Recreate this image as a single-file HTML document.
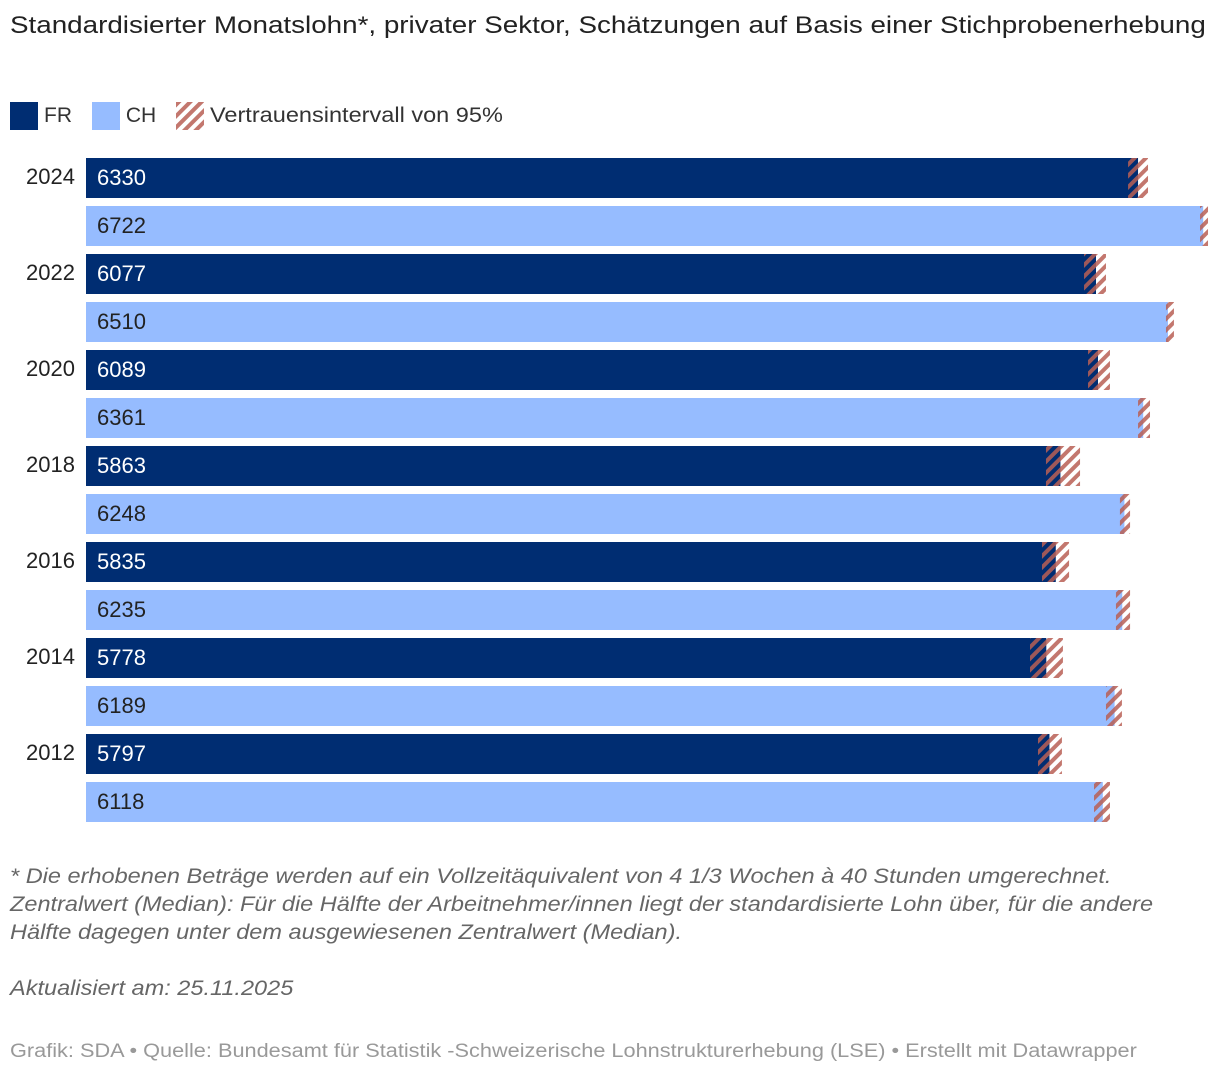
<!DOCTYPE html>
<html><head><meta charset="utf-8"><style>
body{margin:0;background:#fff;font-family:"Liberation Sans",sans-serif;}
#wrap{position:relative;width:1220px;height:1076px;overflow:hidden;}
.t{position:absolute;white-space:nowrap;transform-origin:0 0;}
</style></head><body>
<div id="wrap">
<div class="t" style="left:10px;top:12px;font-size:24px;color:#222;transform:scaleX(1.158);">Standardisierter Monatslohn*, privater Sektor, Schätzungen auf Basis einer Stichprobenerhebung</div>
<div class="t" style="left:10px;top:102px;font-size:21px;color:#333;height:28px;">
<span style="display:inline-block;vertical-align:middle;"><span style="display:inline-block;width:28px;height:28px;background:#002d72;vertical-align:middle;"></span><span style="vertical-align:middle;margin-left:6px;">FR</span></span>
<span style="display:inline-block;vertical-align:middle;margin-left:14px;"><span style="display:inline-block;width:28px;height:28px;background:#96bcff;vertical-align:middle;"></span><span style="vertical-align:middle;margin-left:6px;">CH</span></span>
<span style="display:inline-block;vertical-align:middle;margin-left:14px;"><svg width="28" height="28" style="vertical-align:middle"><rect width="28" height="28" fill="url(#hatch)"/></svg><span style="vertical-align:middle;margin-left:6px;display:inline-block;transform:scaleX(1.12);transform-origin:0 50%;">Vertrauensintervall von 95%</span></span>
</div>
<svg id="chart" width="1220" height="840" style="position:absolute;left:0;top:0">
<defs><pattern id="hatch" width="8" height="8" patternUnits="userSpaceOnUse" patternTransform="rotate(45)"><rect width="4" height="8" fill="rgba(185,95,85,0.85)"/></pattern></defs>
</svg>
<div class="t" style="left:10px;top:863px;font-size:21px;color:#666;font-style:italic;line-height:28px;transform:scaleX(1.12);">* Die erhobenen Beträge werden auf ein Vollzeitäquivalent von 4 1/3 Wochen à 40 Stunden umgerechnet.<br>Zentralwert (Median): Für die Hälfte der Arbeitnehmer/innen liegt der standardisierte Lohn über, für die andere<br>Hälfte dagegen unter dem ausgewiesenen Zentralwert (Median).<br><br>Aktualisiert am: 25.11.2025</div>
<div class="t" style="left:10px;top:1041px;font-size:19px;color:#999;transform:scaleX(1.143);">Grafik: SDA • Quelle: Bundesamt für Statistik -Schweizerische Lohnstrukturerhebung (LSE) • Erstellt mit Datawrapper</div>
</div>
<script>
const years=[2024,2022,2020,2018,2016,2014,2012];
const frValues=[6330,6077,6089,5863,5835,5778,5797];
const chValues=[6722,6510,6361,6248,6235,6189,6118];
const frLow=[6270,6005,6029,5776,5752,5680,5728];
const frHigh=[6390,6137,6161,5981,5915,5878,5872];
const chLow=[6703,6498,6330,6221,6197,6137,6065];
const chHigh=[6751,6546,6402,6282,6282,6233,6161];
const NS="http://www.w3.org/2000/svg";
const svg=document.getElementById('chart');
const x=v=>86+v*0.1662;
function rect(x0,y0,w,h,fill,name){const r=document.createElementNS(NS,'rect');r.setAttribute('x',x0);r.setAttribute('y',y0);r.setAttribute('width',w);r.setAttribute('height',h);r.setAttribute('fill',fill);


svg.appendChild(r);return r;}
function text(tx,ty,s,fill,anchor,name){const t=document.createElementNS(NS,'text');t.setAttribute('x',tx);t.setAttribute('y',ty);t.setAttribute('fill',fill);t.setAttribute('font-size','22');t.setAttribute('text-anchor',anchor);t.setAttribute('font-family','Liberation Sans, sans-serif');t.textContent=s;


svg.appendChild(t);}
years.forEach((yr,i)=>{
 const y0=158+i*96, y1=y0+48;
 text(75,y0+26,String(yr),'#222','end','year-label-'+yr);
 rect(x(0),y0,x(frValues[i])-x(0),40,'#002d72','bar-fr-'+yr);
 rect(x(frLow[i]),y0,x(frHigh[i])-x(frLow[i]),40,'url(#hatch)','ci-fr-'+yr);
 text(97,y0+27,String(frValues[i]),'#fff','start','value-fr-'+yr);
 rect(x(0),y1,x(chValues[i])-x(0),40,'#96bcff','bar-ch-'+yr);
 rect(x(chLow[i]),y1,x(chHigh[i])-x(chLow[i]),40,'url(#hatch)','ci-ch-'+yr);
 text(97,y1+27,String(chValues[i]),'#222','start','value-ch-'+yr);
});
</script>
</body></html>
